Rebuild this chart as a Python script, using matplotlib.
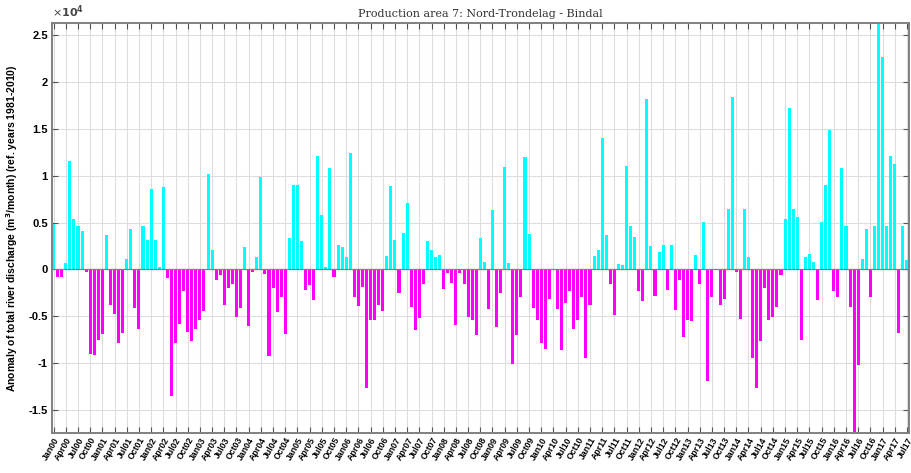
import numpy as np
import pandas as pd
import matplotlib
matplotlib.use('Agg')
import matplotlib.pyplot as plt
from matplotlib.ticker import FixedLocator, FuncFormatter

# monthly anomaly, Jan 2000 .. Jul 2017, in units of 1e4 m3/month
anomaly_e4 = [
    0.49, -0.08, -0.08, 0.07, 1.16, 0.54, 0.46, 0.41, -0.03, -0.90, -0.91, -0.75,
    -0.69, 0.37, -0.38, -0.48, -0.79, -0.68, 0.11, 0.43, -0.41, -0.64, 0.46, 0.31,
    0.86, 0.31, 0.03, 0.88, -0.09, -1.35, -0.79, -0.58, -0.23, -0.67, -0.76, -0.64,
    -0.54, -0.44, 1.02, 0.21, -0.11, -0.06, -0.38, -0.20, -0.16, -0.51, -0.41, 0.24,
    -0.60, -0.03, 0.13, 0.99, -0.05, -0.92, -0.20, -0.45, -0.29, -0.69, 0.34, 0.90,
    0.90, 0.30, -0.22, -0.17, -0.33, 1.21, 0.58, 0.03, 1.08, -0.08, 0.26, 0.24,
    0.13, 1.24, -0.29, -0.39, -0.19, -1.26, -0.54, -0.54, -0.38, -0.44, 0.14, 0.89,
    0.31, -0.25, 0.39, 0.71, -0.40, -0.65, -0.52, -0.15, 0.30, 0.21, 0.13, 0.15,
    -0.21, -0.04, -0.14, -0.59, -0.04, -0.16, -0.51, -0.54, -0.70, 0.34, 0.08, -0.42,
    0.63, -0.61, -0.25, 1.09, 0.07, -1.01, -0.70, -0.29, 1.20, 0.38, -0.41, -0.54,
    -0.79, -0.85, -0.31, -0.01, -0.42, -0.86, -0.36, -0.23, -0.64, -0.54, -0.29, -0.94,
    -0.38, 0.14, 0.21, 1.40, 0.37, -0.15, -0.49, 0.06, 0.05, 1.10, 0.46, 0.35,
    -0.23, -0.34, 1.82, 0.25, -0.28, 0.19, 0.26, -0.22, 0.26, -0.43, -0.11, -0.72,
    -0.54, -0.55, 0.15, -0.16, 0.51, -1.19, -0.29, -0.01, -0.38, -0.31, 0.65, 1.84,
    -0.03, -0.53, 0.64, 0.13, -0.94, -1.26, -0.76, -0.20, -0.54, -0.51, -0.40, -0.06,
    0.54, 1.72, 0.64, 0.56, -0.75, 0.13, 0.17, 0.08, -0.33, 0.51, 0.90, 1.49,
    -0.23, -0.29, 1.08, 0.46, -0.40, -1.745, -1.02, 0.11, 0.43, -0.29, 0.46, 2.63,
    2.27, 0.46, 1.21, 1.13, -0.68, 0.46, 0.10,
]
months = pd.date_range('2000-01-01', periods=len(anomaly_e4), freq='MS')
tick_labels = [d.strftime('%b%y') for d in months[::3]]
y_ticks = [-1.5, -1, -0.5, 0, 0.5, 1, 1.5, 2, 2.5]

title = 'Production area 7: Nord-Trondelag - Bindal'
ylabel = 'Anomaly of total river discharge (m$^\\mathbf{3}$/month) (ref. years 1981-2010)'

vals = np.array(anomaly_e4)
x = np.arange(len(vals))
pos = vals >= 0

fig = plt.figure(figsize=(9.12, 4.73), dpi=100)
ax = fig.add_axes([0.057, 0.0846, 0.9397, 0.8668])

ax.bar(x[pos], vals[pos], width=0.75, color='#00ffff', zorder=2)
ax.bar(x[~pos], vals[~pos], width=0.75, color='#ff00ff', zorder=2)
ax.axhline(0, color='#7a8090', lw=0.9, zorder=3)

ax.set_xlim(-0.4, len(vals) - 0.5)
ax.set_ylim(vals.min(), vals.max())

ax.xaxis.set_major_locator(FixedLocator(x[::3]))
ax.set_xticklabels(tick_labels, rotation=60, ha='right', rotation_mode='anchor',
                   fontsize=6.3, fontweight='bold', family='Liberation Sans')
ax.yaxis.set_major_locator(FixedLocator(y_ticks))
ax.yaxis.set_major_formatter(FuncFormatter(lambda v, p: f'{v:g}'))
for lab in ax.get_yticklabels():
    lab.set_fontweight('bold')
    lab.set_fontsize(8)
    lab.set_family('Liberation Sans')

ax.tick_params(direction='in', top=True, right=True, length=4, width=0.8,
               color='#555555', pad=3)
ax.tick_params(axis='x', pad=2)
ax.grid(True, color='#dddddd', lw=0.8, zorder=0)
ax.set_axisbelow(True)
for sp in ax.spines.values():
    sp.set_color('#808080')
    sp.set_linewidth(1.4)

ax.set_ylabel(ylabel, fontsize=7.5, fontweight='bold', family='Liberation Sans', labelpad=6)
ax.set_title(title, fontsize=8, family='DejaVu Serif', color='#333333', pad=4)
ax.text(0.0, 1.008, r'$\times\mathbf{10^4}$', transform=ax.transAxes, fontsize=8,
        fontweight='bold', ha='left', va='bottom', color='#444444')

fig.savefig('out.png', dpi=100)
